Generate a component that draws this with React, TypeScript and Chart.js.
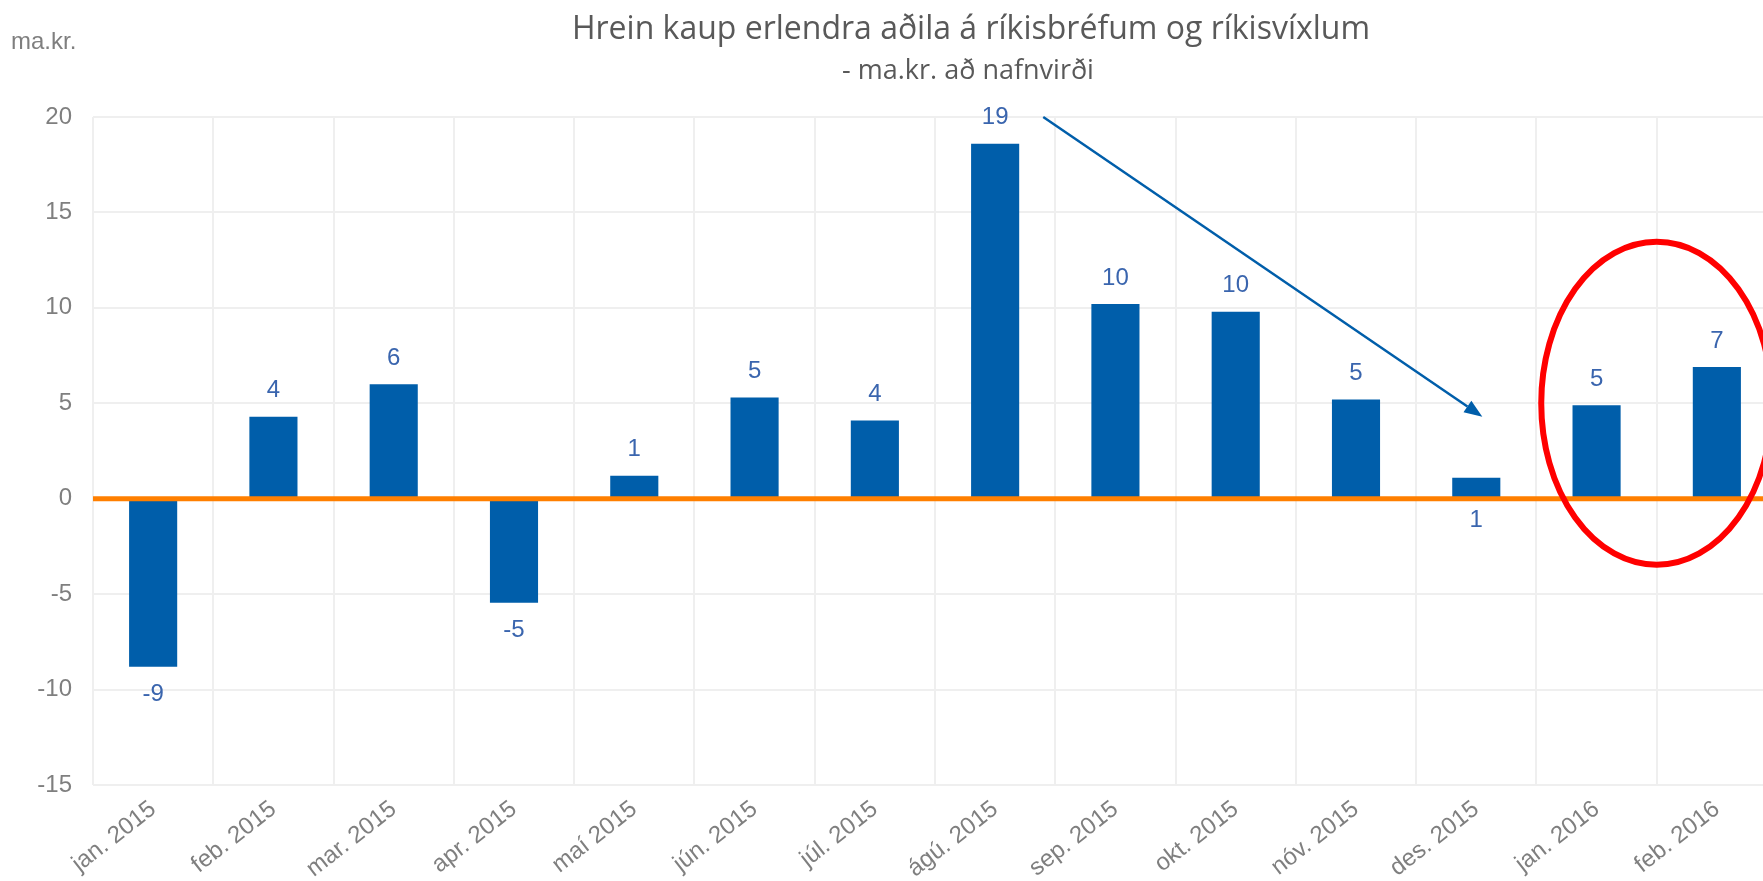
import React, { useEffect, useRef } from 'react';
import { Chart, registerables } from 'chart.js';

Chart.register(...registerables);

const categories = [
  'jan. 2015', 'feb. 2015', 'mar. 2015', 'apr. 2015', 'maí 2015', 'jún. 2015', 'júl. 2015',
  'ágú. 2015', 'sep. 2015', 'okt. 2015', 'nóv. 2015', 'des. 2015', 'jan. 2016', 'feb. 2016',
];
const netPurchases = [-8.8, 4.3, 6.0, -5.45, 1.2, 5.3, 4.1, 18.6, 10.2, 9.8, 5.2, 1.1, 4.9, 6.9];
const yTicks = [-15, -10, -5, 0, 5, 10, 15, 20];
const labelsBelowAxis = ['des. 2015'];

const titleText = 'Hrein kaup erlendra aðila á ríkisbréfum og ríkisvíxlum';
const subtitleText = '- ma.kr. að nafnvirði';
const unitText = 'ma.kr.';

// annotation anchors in data units (category index, value)
const arrowFrom = { x: 7.4, y: 20 };
const arrowTo = { x: 11.05, y: 4.3 };
const ellipseAnno = { x: 12.5, y: 5, rx: 0.96, ry: 8.46 };

const BAR = '#005EAA';
const LABEL = '#3A65AE';
const GREY = '#7f7f7f';

const annotations = {
  id: 'annotations',
  afterDatasetsDraw(chart: any) {
    const { ctx, chartArea } = chart;
    const xs = chart.scales.x;
    const ys = chart.scales.y;
    const zero = ys.getPixelForValue(0);

    // orange zero line
    ctx.save();
    ctx.strokeStyle = '#FF7F00';
    ctx.lineWidth = 5;
    ctx.beginPath();
    ctx.moveTo(chartArea.left, zero);
    ctx.lineTo(chartArea.right, zero);
    ctx.stroke();

    // data labels
    const meta = chart.getDatasetMeta(0);
    ctx.font = '24px "Liberation Sans", Arial, sans-serif';
    ctx.fillStyle = LABEL;
    ctx.textAlign = 'center';
    ctx.textBaseline = 'middle';
    meta.data.forEach((bar: any, i: number) => {
      const v = netPurchases[i];
      let y;
      if (labelsBelowAxis.includes(categories[i])) y = zero + 22;
      else if (v >= 0) y = bar.y - 26;
      else y = bar.y + 28;
      ctx.fillText(String(Math.round(v)), bar.x, y);
    });

    // arrow
    const x1 = xs.getPixelForValue(arrowFrom.x);
    const y1 = ys.getPixelForValue(arrowFrom.y);
    const x2 = xs.getPixelForValue(arrowTo.x);
    const y2 = ys.getPixelForValue(arrowTo.y);
    const ang = Math.atan2(y2 - y1, x2 - x1);
    const headLen = 18;
    const headW = 7;
    const bx = x2 - headLen * Math.cos(ang);
    const by = y2 - headLen * Math.sin(ang);
    ctx.strokeStyle = BAR;
    ctx.fillStyle = BAR;
    ctx.lineWidth = 2.5;
    ctx.beginPath();
    ctx.moveTo(x1, y1);
    ctx.lineTo(bx, by);
    ctx.stroke();
    ctx.beginPath();
    ctx.moveTo(x2, y2);
    ctx.lineTo(bx + headW * Math.sin(ang), by - headW * Math.cos(ang));
    ctx.lineTo(bx - headW * Math.sin(ang), by + headW * Math.cos(ang));
    ctx.closePath();
    ctx.fill();

    // red ellipse
    const cx = xs.getPixelForValue(ellipseAnno.x);
    const cy = ys.getPixelForValue(ellipseAnno.y);
    const catW = xs.getPixelForValue(1) - xs.getPixelForValue(0);
    const rx = ellipseAnno.rx * catW;
    const ry = Math.abs(ys.getPixelForValue(ellipseAnno.ry) - ys.getPixelForValue(0));
    ctx.strokeStyle = '#FF0000';
    ctx.lineWidth = 6;
    ctx.beginPath();
    ctx.ellipse(cx, cy, rx, ry, 0, 0, Math.PI * 2);
    ctx.stroke();

    // titles
    ctx.fillStyle = '#595959';
    ctx.textAlign = 'center';
    ctx.textBaseline = 'middle';
    ctx.font = '32px "Open Sans", sans-serif';
    ctx.fillText(titleText, 971, 30);
    ctx.font = '27px "Open Sans", sans-serif';
    ctx.fillText(subtitleText, 968, 71);

    ctx.fillStyle = GREY;
    ctx.textAlign = 'left';
    ctx.font = '24px "Liberation Sans", Arial, sans-serif';
    ctx.fillText(unitText, 11, 42);
    ctx.restore();
  },
};

export default function App() {
  const ref = useRef<HTMLCanvasElement>(null);

  useEffect(() => {
    if (!ref.current) return;
    const chart = new Chart(ref.current, {
      type: 'bar',
      data: {
        labels: categories,
        datasets: [
          {
            data: netPurchases,
            backgroundColor: BAR,
            borderWidth: 0,
            barPercentage: 0.5,
            categoryPercentage: 0.8,
          },
        ],
      },
      options: {
        responsive: false,
        animation: false,
        layout: { padding: { top: 117, left: 0, right: 0, bottom: 0 } },
        plugins: {
          legend: { display: false },
          tooltip: { enabled: false },
          title: { display: false },
        },
        scales: {
          x: {
            grid: { color: '#efefef', lineWidth: 2, drawTicks: false, offset: true },
            border: { display: false },
            ticks: {
              autoSkip: false,
              minRotation: 38,
              maxRotation: 38,
              color: GREY,
              padding: 10,
              font: { family: '"Liberation Sans", Arial, sans-serif', size: 24 },
            },
            afterFit(scale: any) {
              scale.height = 96;
              scale.paddingLeft = 0;
              scale.paddingRight = 0;
            },
          },
          y: {
            min: -15,
            max: 20,
            grid: { color: '#efefef', lineWidth: 2, drawTicks: false },
            border: { display: false },
            afterBuildTicks(scale: any) {
              scale.ticks = yTicks.map((v) => ({ value: v }));
            },
            ticks: {
              color: GREY,
              padding: 21,
              font: { family: '"Liberation Sans", Arial, sans-serif', size: 24 },
            },
            afterFit(scale: any) {
              scale.width = 93;
              scale.paddingTop = 0;
              scale.paddingBottom = 0;
            },
          },
        },
      },
      plugins: [annotations],
    });
    return () => chart.destroy();
  }, []);

  return (
    <div
      style={{
        position: 'fixed',
        left: 0,
        top: 0,
        width: '100vw',
        height: '100vh',
        overflow: 'hidden',
        background: '#fff',
      }}
    >
      <canvas ref={ref} width={1777} height={881} style={{ display: 'block' }} />
    </div>
  );
}
